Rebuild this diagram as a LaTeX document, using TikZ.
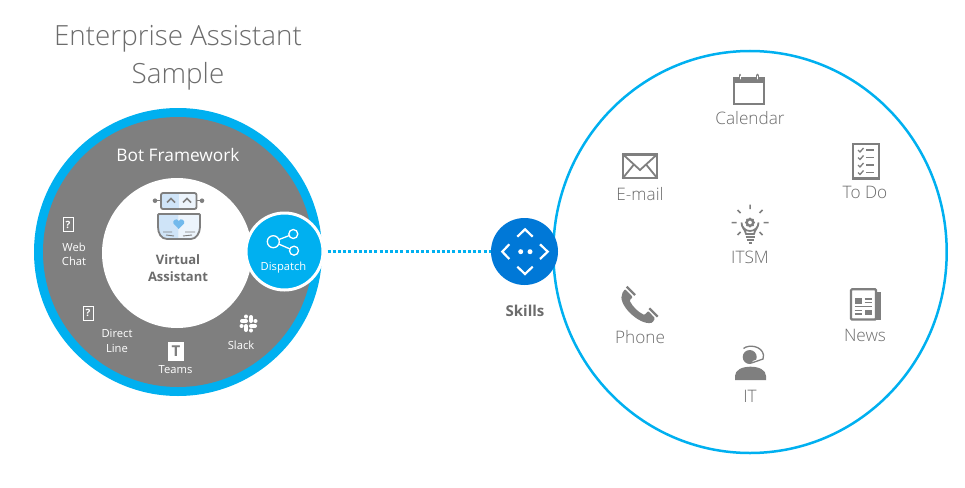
\documentclass[tikz,border=0pt]{standalone}
\usepackage{fontspec}
\setmainfont{Open Sans}
\newfontfamily\lightf{Open Sans Light}
\usetikzlibrary{calc,shapes.geometric}
\definecolor{gr}{HTML}{7F7F7F}
\definecolor{txtg}{HTML}{6C6C6C}
\definecolor{cyanb}{HTML}{00B0F0}
\definecolor{blued}{HTML}{0078D7}
\definecolor{lblue}{HTML}{CFE4F8}
\definecolor{mblue}{HTML}{72B9EC}
\newcommand{\fs}[2]{\fontsize{#1}{#2}\selectfont}
\tikzset{
  lab/.style={inner sep=0pt,text=white,align=center,font=\fs{11.2}{14.5}},
  skl/.style={inner sep=0pt,text=txtg,font=\lightf\fs{17.2}{19}},
  ico/.style={draw=gr,line width=2.3pt,fill=none},
  bub/.style={circle,inner sep=0pt,minimum size=#1},
  qbox/.style={draw=white,line width=1pt,minimum width=10pt,minimum height=14pt,inner sep=0pt,text=white,font=\bfseries\fs{10}{12}}
}
\begin{document}
\begin{tikzpicture}[x=1pt,y=-1pt]
\useasboundingbox (0,0) rectangle (965,487);
\fill[white] (0,0) rectangle (965,487);
% titles
\node[inner sep=0pt,text=txtg,font=\lightf\fs{27.8}{32}] (t1) at (178,39) {Enterprise Assistant};
\node[inner sep=0pt,text=txtg,font=\lightf\fs{27.8}{32}] (t2) at (178,76) {Sample};
% left disc
\node[bub=288pt,fill=cyanb] (outer) at (178,252) {};
\node[bub=270pt,fill=gr] (ring) at (178,252) {};
\node[bub=150pt,fill=white] (inner) at (177,253) {};
% big right circle
\node[ellipse,inner sep=0pt,minimum width=393.4pt,minimum height=402pt,draw=cyanb,line width=2.5pt,fill=white] (big) at (750,252) {};
% skills + dispatch
\node[bub=77pt,fill=cyanb,draw=white,line width=3pt] (disp) at (284.5,251.5) {};
\node[bub=67pt,fill=blued] (skills) at (524.5,251.5) {};
\draw[cyanb,line width=3pt,dash pattern=on 3pt off 2.2pt,shorten <=3pt] (disp.east) -- (skills.west);
% labels
\node[inner sep=0pt,text=white,font=\fs{17.3}{20}] (bf) at (178,155) {Bot Framework};
\node[inner sep=0pt,text=txtg,align=center,font=\bfseries\fs{13}{17}] (va) at (178,268) {Virtual\\Assistant};
\node[lab] (web) at (74,254.5) {Web\\Chat};
\node[lab] (dl) at (117,341) {Direct\\Line};
\node[lab] (teams) at (175.5,370) {Teams};
\node[lab] (slack) at (241,345) {Slack};
\node[lab] (dlab) at (283.5,268) {Dispatch};
\node[inner sep=0pt,text=txtg,font=\bfseries\fs{15}{17}] (sk) at (525,311) {Skills};
\node[skl] (cal) at (750,118) {Calendar};
\node[skl] (em) at (640,194) {E-mail};
\node[skl] (todo) at (865,192) {To Do};
\node[skl] (itsm) at (750,257) {ITSM};
\node[skl] (ph) at (640,337) {Phone};
\node[skl] (news) at (865,335) {News};
\node[skl] (it) at (750,396) {IT};
% ? boxes
\node[qbox] (q1) at (68,224.5) {?};
\node[qbox] (q2) at (88,313) {?};
% Teams T
\node[fill=white,minimum width=16pt,minimum height=19pt,inner sep=0pt,text=gr,font=\bfseries\fs{15}{17}] (tm) at (176,351) {T};
% Slack
\begin{scope}[shift={(248.5,323.5)},white,line width=4pt,line cap=round]
\draw (-6.5,-2.5)--(-2.5,-2.5); \draw (2.5,-6.5)--(2.5,-2.5);
\draw (2.5,2.5)--(6.5,2.5); \draw (-2.5,2.5)--(-2.5,6.5);
\draw (-2.5,-7)--(-2.5,-6.9); \draw (7,-2.5)--(6.9,-2.5);
\draw (2.5,7)--(2.5,6.9); \draw (-7,2.5)--(-6.9,2.5);
\end{scope}
% Robot
\begin{scope}
\fill[lblue] (161,193) rectangle (178.7,209);
\fill[lblue!40] (178.7,193) rectangle (196.5,209);
\draw[gr,line width=1.8pt,rounded corners=2pt] (161,193) rectangle (196.5,209);
\draw[gr,line width=1.4pt] (155,200.7)--(161,200.7) (196.5,200.7)--(202,200.7);
\fill[gr] (155,200.7) circle (2.3) (202,200.7) circle (2.3);
\draw[gr,line width=1.5pt] (167,202.5)--(171,198.5)--(175,202.5) (183,202.5)--(187,198.5)--(191,202.5);
\fill[lblue] (158,214) -- (178.7,214) -- (178.7,239) -- (168,239) .. controls (161,239) and (158,233) .. (158,226) -- cycle;
\fill[lblue!40] (178.7,214) -- (200,214) -- (200,226) .. controls (200,233) and (196,239) .. (190,239) -- (178.7,239) -- cycle;
\draw[gr,line width=1.8pt,rounded corners=1pt] (158,226) -- (158,214) -- (200,214) -- (200,226) .. controls (200,233) and (196,239) .. (190,239) -- (168,239) .. controls (161,239) and (158,233) .. (158,226) -- cycle;
\fill[mblue] (178.7,229) -- (173.5,223.5) .. controls (172,220) and (177,217.5) .. (178.7,221) .. controls (180.5,217.5) and (185.5,220) .. (184,223.5) -- cycle;
\draw[gr,line width=.9pt] (163,232)--(172,232) (166,235)--(174,236) (185,232)--(195,232) (183,236)--(192,235);
\end{scope}
% Dispatch icon
\begin{scope}[white,line width=1.3pt]
\coordinate (da) at (273.3,241.7); \coordinate (db) at (293.3,234); \coordinate (dc) at (294,250.7);
\draw (da) circle (6) (db) circle (4.5) (dc) circle (4.5);
\draw ($(da)!6pt!(db)$) -- ($(db)!4.5pt!(da)$);
\draw ($(da)!6pt!(dc)$) -- ($(dc)!4.5pt!(da)$);
\end{scope}
% Skills icon
\begin{scope}[white,line width=2.2pt]
\draw (517.3,236.7)--(525,229.3)--(532.7,236.7);
\draw (517.3,266.7)--(525,274)--(532.7,266.7);
\draw (509.3,244.3)--(502.3,251.7)--(509.3,259);
\draw (540,244.3)--(547.7,251.7)--(540,259);
\fill (520.7,251.7) circle (2.5) (530,251.7) circle (2.5);
\end{scope}
% Calendar
\draw[ico] (734,81) rectangle (763.8,104);
\fill[gr] (732.7,76.7) rectangle (764.7,83);
\draw[gr,line width=2.6pt,line cap=round] (740,75)--(740,78.5) (757.3,75)--(757.3,78.5);
\draw[white,line width=.9pt,line cap=round] (740,76)--(740,79) (757.3,76)--(757.3,79);
% Envelope
\draw[ico,line join=miter] (622.8,154.4) rectangle (657.2,178.2);
\draw[gr,line width=1.8pt] (622.5,154)--(640,170)--(657.5,154) (622.5,178.5)--(633.5,165) (657.5,178.5)--(646.5,165);
% To Do
\draw[ico] (853,144) rectangle (879,178.5);
\foreach \yy in {150,157.5,165,172.5}{
  \draw[gr,line width=1.3pt] (858,\yy)--(860,\yy+2)--(863.5,\yy-2);
  \draw[gr,line width=1.5pt] (866,\yy)--(874,\yy);
}
% ITSM bulb
\draw[gr,line width=1.7pt] (746,234) .. controls (745,229) and (741.5,228) .. (741.5,222.5) arc[start angle=180,end angle=0,radius=8.5] .. controls (758.5,228) and (755,229) .. (754,234) -- cycle;
\draw[gr,line width=1.6pt] (745.5,237)--(754.5,237) (746.5,240)--(753.5,240) (748.5,243)--(751.5,243);
\fill[gr,even odd rule] (750,222.5) circle (4.6) (750,222.5) circle (2);
\foreach \aa in {0,45,...,315}{\fill[gr] (750,222.5) ++(\aa:4.2) circle (1);}
\draw[gr,line width=1.5pt] (750,204.5)--(750,209) (737.5,210)--(740.5,213) (762.5,210)--(759.5,213) (731.5,222.5)--(736.5,222.5) (763.5,222.5)--(768.5,222.5) (737.5,235)--(740.5,232) (762.5,235)--(759.5,232);
% Phone
\fill[gr,rounded corners=1pt] (625,289) -- (632.7,297) -- (629.5,300.5) .. controls (633,307) and (638,312) .. (644.5,315) -- (648.3,311) -- (655,318.3) -- (652.5,322.5) .. controls (640,326) and (616,304) .. (623,292) -- cycle;
\draw[gr,line width=2.2pt] (626.7,286.7)--(635,295) (649.3,308.3)--(657.7,316.7);
% News
\fill[gr] (853,292) rectangle (880.5,320);
\draw[gr,line width=2.2pt,fill=white,rounded corners=1pt] (851,289.3) rectangle (876,319.5);
\draw[gr,line width=1.8pt] (878.8,292)--(878.8,319);
\fill[gr] (854.5,297.5) rectangle (861.7,303.5);
\fill[gr] (864.5,309.5) rectangle (872,315);
\draw[gr,line width=1.2pt] (864.5,299)--(872,299) (864.5,302.5)--(872,302.5) (854.5,306.5)--(872,306.5) (854.5,310.5)--(861.7,310.5) (854.5,314)--(861.7,314);
% IT
\fill[gr] (749.7,357) circle (7);
\fill[gr] (735,380) -- (735,376) .. controls (735,370) and (742,366.7) .. (750.5,366.7) .. controls (759,366.7) and (766,370) .. (766,376) -- (766,380) -- cycle;
\draw[white,line width=3pt] (743.5,348.5) .. controls (749,344) and (762,346) .. (763.5,355) -- (763,359) -- (753,362.5);
\draw[gr,line width=1.3pt] (743.5,348.5) .. controls (749,344) and (762,346) .. (763.5,355) -- (763,359) -- (753,362.5);
\end{tikzpicture}
\end{document}
